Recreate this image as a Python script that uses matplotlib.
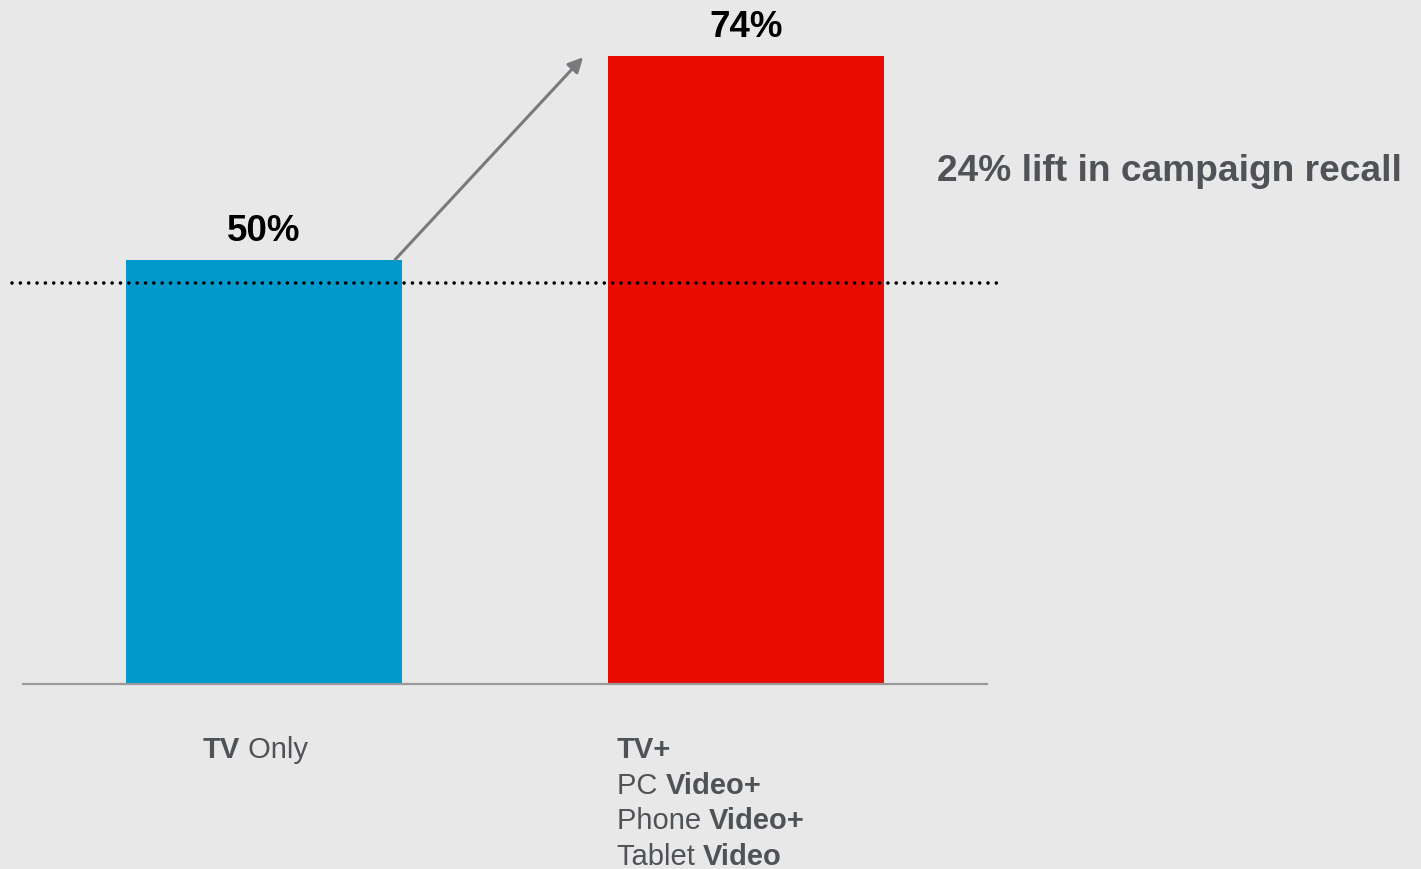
import matplotlib
matplotlib.use("Agg")
import matplotlib.pyplot as plt

# ---- data -------------------------------------------------------------
categories = ["TV Only", "TV+ PC Video+ Phone Video+ Tablet Video"]
recall = [50, 74]                      # campaign recall, %
reference_level = 47.3                 # dotted benchmark line
bar_colors = ["#0099cc", "#e80c00"]

# category labels as lines of (text, weight) segments
category_lines = [
    [[("TV", "bold"), (" Only", "normal")]],
    [[("TV+", "bold")],
     [("PC ", "normal"), ("Video+", "bold")],
     [("Phone ", "normal"), ("Video+", "bold")],
     [("Tablet ", "normal"), ("Video", "bold")]],
]
lift = recall[1] - recall[0]
lift_text = f"{lift}% lift in campaign recall"

# ---- styling ----------------------------------------------------------
W, H, DPI = 1421, 869, 100
BG = "#e8e8e8"
TEXT_GREY = "#4f5357"

plt.rcParams["font.family"] = ["Liberation Sans", "DejaVu Sans"]

fig = plt.figure(figsize=(W / DPI, H / DPI), dpi=DPI, facecolor=BG)


def fx(px):
    return px / W


def fy(py):
    return 1 - py / H


ax = fig.add_axes([fx(23), fy(684), (987 - 23) / W, (684 - 5) / H])
ax.set_facecolor("none")

xpos = list(range(len(recall)))
ax.bar(xpos, recall, width=0.573, color=bar_colors, zorder=2)
ax.set_xlim(-0.5, 1.5)
ax.set_ylim(0, 80)

for side in ("top", "left", "right"):
    ax.spines[side].set_visible(False)
ax.spines["bottom"].set_color("#9a9a9a")
ax.spines["bottom"].set_linewidth(1.6)
ax.set_xticks([])
ax.set_yticks([])

# dotted benchmark line, running a little past the axis ends
ax.plot([-0.523, 1.536], [reference_level, reference_level],
        color="black", lw=2.6, linestyle=(0, (0.01, 2.3)),
        dash_capstyle="round", clip_on=False, zorder=3)

# arrow from the top of the first bar to the top of the second
ax.annotate("", xy=(0.662, recall[1] - 0.15), xytext=(0.272, recall[0]),
            arrowprops=dict(arrowstyle="-|>", color="#7a7a7e", lw=2.2,
                            mutation_scale=22, shrinkA=0, shrinkB=0),
            zorder=4, annotation_clip=False)

# value labels
for i, v in enumerate(recall):
    ax.annotate(f"{v}%", xy=(i, v), xytext=(0, 13.5),
                textcoords="offset points", ha="center", va="baseline",
                fontsize=26.5, fontweight="bold", color="black",
                annotation_clip=False)

fig.text(fx(937), fy(181), lift_text, ha="left", va="baseline",
         fontsize=26.7, fontweight="bold", color=TEXT_GREY)

# category labels with mixed weights
renderer = fig.canvas.get_renderer()


def draw_line(x_px, y_px, segments):
    cur = x_px
    for txt, weight in segments:
        t = fig.text(fx(cur), fy(y_px), txt, ha="left", va="baseline",
                     fontsize=21, fontweight=weight, color=TEXT_GREY)
        bb = t.get_window_extent(renderer)
        cur += bb.width


label_x = [203, 617]
for lines, x0 in zip(category_lines, label_x):
    for k, segs in enumerate(lines):
        draw_line(x0, 758 + 35.6 * k, segs)

fig.savefig("out.png", dpi=DPI, facecolor=BG)
